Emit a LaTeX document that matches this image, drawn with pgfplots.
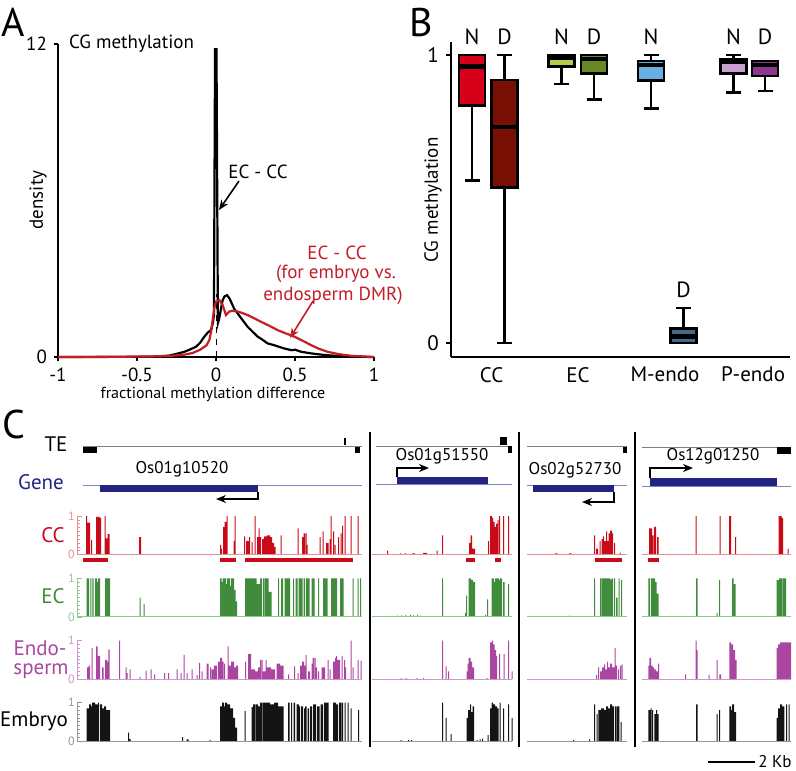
\documentclass[border=0pt]{standalone}
\usepackage{fontspec}
\setmainfont{PT Sans}
\usepackage{pgfplots}
\pgfplotsset{compat=1.18}
\usepgfplotslibrary{statistics}
\usetikzlibrary{arrows.meta}

\definecolor{ccred}{RGB}{200,10,25}
\definecolor{ccbase}{RGB}{228,145,145}
\definecolor{ecgreen}{RGB}{65,140,60}
\definecolor{ecbase}{RGB}{145,200,145}
\definecolor{endo}{RGB}{170,70,160}
\definecolor{endobase}{RGB}{205,150,205}
\definecolor{emb}{RGB}{20,20,20}
\definecolor{embbase}{RGB}{150,150,150}
\definecolor{navy}{RGB}{35,35,130}
\definecolor{navylight}{RGB}{130,130,200}
\definecolor{redtxt}{RGB}{195,30,40}
\definecolor{ccN}{RGB}{215,0,25}
\definecolor{ccD}{RGB}{120,15,5}
\definecolor{ecN}{RGB}{175,205,70}
\definecolor{ecD}{RGB}{105,135,35}
\definecolor{meN}{RGB}{105,175,225}
\definecolor{meD}{RGB}{70,105,135}
\definecolor{peN}{RGB}{200,160,205}
\definecolor{peD}{RGB}{140,55,140}

\newcommand{\pu}{0.5pt}
\newcommand{\fs}[1]{\fontsize{#1}{#1}\selectfont}

\pgfplotsset{
  track/.style={scale only axis, width=714*\pu, height=38.5*\pu,
    xmin=77, xmax=791, ymin=0, ymax=1,
    axis x line=none, axis y line=left, axis line style={-, #1, line width=0.4pt},
    ytick={0,1}, minor ytick={0.1,0.2,...,0.9},
    tick align=inside, major tick length=5*\pu, minor tick length=3*\pu,
    tick style={#1, line width=0.3pt},
    yticklabel style={font=\fs{6}, text=#1, inner sep=1pt},
    /pgf/number format/assume math mode=true, clip=false},
  bx/.style={boxplot/draw direction=y, boxplot prepared={box extend=2.6, whisker extend=1.5}},
}

\begin{document}
\begin{tikzpicture}
\path[use as bounding box] (0,0) rectangle (796*\pu,-770*\pu);

% ---------------- Panel A ----------------
\begin{axis}[at={(58*\pu,-357*\pu)}, anchor=south west, scale only axis,
  width=316*\pu, height=313*\pu, xmin=-1, xmax=1, ymin=0, ymax=12,
  axis x line=bottom, axis y line=left, axis line style={-, line width=1.3pt},
  xtick={-1,-0.5,0,0.5,1}, xticklabels={-1,-0.5,0,0.5,1},
  ytick={0,12}, yticklabels={0,12},
  tick align=outside, major tick length=4*\pu, tick style={black, line width=0.9pt},
  ticklabel style={font=\fs{9.5}}, clip=false]
\addplot[black, dashed, line width=0.4pt] coordinates {(0,0) (0,2.4)};
\addplot[black, line width=1.1pt] coordinates {
(-1,0) (-0.6,0.005) (-0.41,0.01) (-0.3,0.05) (-0.25,0.12) (-0.2,0.2) (-0.16,0.3) (-0.127,0.39) (-0.1,0.55) (-0.074,0.78) (-0.05,0.95) (-0.032,1.03) (-0.02,1.3) (-0.013,1.6)
(-0.006,11.8) (0.003,11.8) (0.012,1.3) (0.021,1.49) (0.03,1.8) (0.042,2.18) (0.055,2.33) (0.07,2.37) (0.085,2.25) (0.095,2.12) (0.115,1.85) (0.137,1.67) (0.17,1.4) (0.2,1.16) (0.23,0.98) (0.264,0.78) (0.29,0.68) (0.327,0.52) (0.37,0.45) (0.43,0.33) (0.48,0.26) (0.5,0.28) (0.54,0.2) (0.6,0.14) (0.64,0.11) (0.7,0.07) (0.77,0.04) (0.9,0.01) (1,0)};
\addplot[redtxt, line width=1.1pt] coordinates {
(-1,0) (-0.6,0.01) (-0.41,0.02) (-0.3,0.04) (-0.2,0.09) (-0.15,0.15) (-0.1,0.28) (-0.06,0.45) (-0.042,0.65) (-0.03,1.0) (-0.021,1.42) (-0.01,1.9) (0.0,2.12) (0.021,2.18) (0.042,1.99) (0.063,1.61) (0.084,1.74) (0.1,1.77) (0.127,1.76) (0.16,1.7) (0.2,1.61) (0.24,1.49) (0.285,1.35) (0.34,1.19) (0.39,1.03) (0.44,0.91) (0.496,0.78) (0.55,0.62) (0.6,0.46) (0.65,0.32) (0.706,0.2) (0.76,0.13) (0.81,0.08) (0.87,0.04) (0.94,0.02) (1,0)};
\end{axis}

% ---------------- Panel B ----------------
% x in units of 10 px measured from the y axis
\begin{axis}[at={(451*\pu,-357*\pu)}, anchor=south west, scale only axis,
  width=339*\pu, height=315*\pu, xmin=0, xmax=33.9, ymin=-0.0486, ymax=1.045,
  axis x line=bottom, axis y line=left, axis line style={-, line width=1.3pt},
  ytick={0,1}, yticklabels={0,1},
  xtick={4.07,12.7,21.4,30.2}, xticklabels={CC,EC,M-endo,P-endo},
  tick align=outside, major tick length=5*\pu, tick style={black, line width=0.9pt},
  x tick style={draw=none},
  ticklabel style={font=\fs{10.5}},
  xticklabel style={yshift=1pt},
  boxplot/every median/.style={line width=2.2pt},
  clip=false]
\addplot[fill=ccN, draw=black, line width=1.3pt, bx, boxplot prepared={draw position=2.1, lower whisker=0.565, lower quartile=0.824, median=0.960, upper quartile=1.0, upper whisker=1.0}] coordinates {};
\addplot[fill=ccD, draw=black, line width=1.3pt, bx, boxplot prepared={draw position=5.35, lower whisker=0, lower quartile=0.540, median=0.749, upper quartile=0.913, upper whisker=1.0}] coordinates {};
\addplot[fill=ecN, draw=black, line width=1.3pt, bx, boxplot prepared={draw position=11.05, lower whisker=0.899, lower quartile=0.960, median=0.990, upper quartile=1.0, upper whisker=1.0}] coordinates {};
\addplot[fill=ecD, draw=black, line width=1.3pt, bx, boxplot prepared={draw position=14.3, lower whisker=0.846, lower quartile=0.936, median=0.985, upper quartile=1.0, upper whisker=1.0}] coordinates {};
\addplot[fill=meN, draw=black, line width=1.3pt, bx, boxplot prepared={draw position=20.0, lower whisker=0.814, lower quartile=0.911, median=0.965, upper quartile=0.979, upper whisker=1.0}] coordinates {};
\addplot[fill=meD, draw=black, line width=1.3pt, bx, boxplot prepared={draw position=23.25, lower whisker=0, lower quartile=0, median=0.023, upper quartile=0.05, upper whisker=0.121}] coordinates {};
\addplot[fill=peN, draw=black, line width=1.3pt, bx, boxplot prepared={draw position=28.25, lower whisker=0.869, lower quartile=0.936, median=0.975, upper quartile=0.986, upper whisker=1.0}] coordinates {};
\addplot[fill=peD, draw=black, line width=1.3pt, bx, boxplot prepared={draw position=31.4, lower whisker=0.875, lower quartile=0.927, median=0.965, upper quartile=0.979, upper whisker=0.979}] coordinates {};
\end{axis}

% ---------------- Panel C tracks ----------------
% CC
\begin{axis}[track=ccbase, at={(77*\pu,-554.5*\pu)}, anchor=south west]
\addplot[ybar interval, fill=ccred, draw=none] coordinates {
(86,1.0)(87,0.83)(90,0)(91,0.38)(92,0)(96,0.98)(99.5,0.95)(101,0)(104.5,1.0)(105.5,0.42)(107.5,0.53)(109.5,0)
(139,0.45)(141,0)
(220,0.25)(221,0.15)(222,0)(223,0.72)(224.5,0.85)(226.5,1.0)(227.5,0)(233.5,0.35)(234.5,1.0)(235.5,0)
(244,0.47)(245,0)(246,0.35)(249,0.45)(250,0)(251.5,0.32)(252.5,0)(254.5,1.0)(255.5,0)(257,0.45)(258.5,0.68)(259.5,0.45)(261,0)(262,0.4)(264,0.47)(267,0.5)(270,0.45)(272,0.3)(274,0.2)(275.5,0)
(280.5,0.5)(281.5,0)(297.5,0.68)(298.5,0)(302,0.45)(303.5,0.55)(305,0)(305.5,0.55)(306.5,0.25)(307.5,0)
(319.5,0.45)(320.5,0)(322.5,0.6)(323.5,0)(326,0.3)(328.5,0)(329.5,0.4)(330.5,1.0)(331.5,0)(333,0.6)(334,0)(334.5,0.25)(335.5,0)(338,0.45)(339,0)(340.5,0.55)(341.5,0)(342,0.75)(343,0)(344.5,1.0)(345.5,0)(350.5,1.0)(351.5,0)(357.5,1.0)(358.5,0)};
\addplot[ybar interval, fill=ccred, draw=none] coordinates {
(387,0.1)(388,0)(400,0.03)(401,0)(405,0.03)(406,0)(412,0.03)(415,0)(423,0.04)(427,0)(436.5,0.1)(437.5,0)(442,0.5)(443,0)
(469,0.3)(470.5,0.5)(472,0.15)(475,0)(488,0.35)(489,0)(490,1.0)(492,0.95)(493,0.85)(494.5,0.72)(496,0.8)(497.5,0.9)(498.5,0)(499,1.0)(500,0)(503,1.0)(504,0)(508,1.0)(509,0)};
\addplot[ybar interval, fill=ccred, draw=none] coordinates {
(555,0.03)(557.5,0)(569,0.03)(571.5,0)(594,0.5)(595,0)(596,0.15)(598,0)(599.5,0.35)(600.5,0)(601.5,0.4)(603,0.47)(604,0.35)(606,0.6)(607,0.35)(608.5,0.55)(610,0.62)(612,0.55)(613,0)(614,0.3)(615,0)(619.5,0.05)(620.5,0)};
\addplot[ybar interval, fill=ccred, draw=none] coordinates {
(649,0.68)(652,0.5)(653.5,0)(654,0.72)(656,0)(657,0.45)(658.7,0)(695.5,1.0)(696.5,0)(719.5,1.0)(720.5,0)(729,1.0)(731,0)(735,0.45)(736,0)(778.5,1.0)(781.5,0.95)(783,0)(787.5,0.15)(788.5,0)};
\addplot[ccbase, line width=0.5pt] coordinates {(77,0)(362,0)};
\addplot[ccbase, line width=0.5pt] coordinates {(372,0)(512,0)};
\addplot[ccbase, line width=0.5pt] coordinates {(527,0)(627,0)};
\addplot[ccbase, line width=0.5pt] coordinates {(642,0)(791,0)};
\end{axis}

% EC
\begin{axis}[track=ecbase, at={(77*\pu,-616.8*\pu)}, anchor=south west]
\addplot[ybar interval, fill=ecgreen, draw=none] coordinates {
(86.5,1.0)(89,0)(90.3,1.0)(91.3,0)(92.3,1.0)(93.5,0)(95,1.0)(97,0.9)(98,1.0)(100,0)(105,1.0)(110,0)
(139.5,0.5)(140.5,0)(143.5,0.33)(144.5,0)
(220,1.0)(221.5,0.9)(222.5,1.0)(226,0.85)(227,1.0)(230,0.8)(231,1.0)(234,0.7)(235.5,0.4)(237,0)
(245,1.0)(256.5,0.85)(260,1.0)(262,0)(263,1.0)(264.5,0)(265,1.0)(268.5,0.65)(271.5,0)(278,1.0)(279,0)(281,1.0)(283,0)(284.5,1.0)(290,0)(293,1.0)(294,0)(295.5,1.0)(297.5,0)(298.5,1.0)(302.5,0)(303.5,1.0)(305,0)(306,1.0)(309.5,0)(311.5,1.0)(314.5,0)(318,1.0)(319,0)(323,1.0)(327.5,0)(331,1.0)(337,0)(340,1.0)(343.5,0)(352.5,1.0)(353.5,0)(357.5,1.0)(358.5,0)(360,1.0)(361,0)};
\addplot[ybar interval, fill=ecgreen, draw=none] coordinates {
(397,0.03)(398,0)(401,0.04)(402,0)(405,0.04)(406,0)(410,0.05)(411,0)(413,0.04)(414,0)(417,0.05)(418,0)(420,0.03)(421,0)
(442,1.0)(443,0)(465,0.1)(466,0.55)(467,0)(468.5,1.0)(471,0.95)(473,0.9)(475,0)
(485,0.05)(486,0)(487,0.45)(488,0)(491.5,1.0)(494,0.9)(495,1.0)(499,0.95)(500,1.0)(502,0)(503,0.9)(504.5,0)(508,0.85)(509,0)};
\addplot[ybar interval, fill=ecgreen, draw=none] coordinates {
(543,0.02)(544,0)(569,0.03)(570,0)(594,1.0)(595,0)(600,1.0)(601,0)(601.5,1.0)(610,0.97)(612,1.0)(613,0)(614,1.0)(615,0)(616,0.5)(617.5,0)(618.5,1.0)(619.5,0)(621,0.95)(622,0)};
\addplot[ybar interval, fill=ecgreen, draw=none] coordinates {
(648.3,1.0)(650,0)(651,1.0)(655,0.9)(656.5,0.6)(658.7,0)(696,1.0)(697.7,0)(716.5,0.1)(717.5,0)(719,0.95)(720,0)(732,1.0)(733.5,0.85)(735.5,0)(776.7,0.95)(779,1.0)(782,0)(782.7,1.0)(786,0)};
\addplot[ecbase, line width=0.5pt] coordinates {(77,0)(362,0)};
\addplot[ecbase, line width=0.5pt] coordinates {(372,0)(512,0)};
\addplot[ecbase, line width=0.5pt] coordinates {(527,0)(627,0)};
\addplot[ecbase, line width=0.5pt] coordinates {(642,0)(791,0)};
\end{axis}

% Endosperm
\begin{axis}[track=endobase, at={(77*\pu,-679*\pu)}, anchor=south west]
\addplot[ybar interval, fill=endo, draw=none] coordinates {
(87,0.3)(88.5,0.35)(90,0)(91.5,0.8)(92.5,0)(96,0.85)(97.7,0.6)(100,0)(102,0.3)(103.5,0)(105,0.5)(107,0.45)(108.3,0.77)(109.5,0)(119,1.0)(120,0)(125.5,0.3)(126.5,0.15)(127.5,0)(129.5,0.25)(130.5,0)(139.5,0.05)(140.5,0)(145.5,0.22)(146.5,0)(150.5,0.25)(151.5,0)(154,0.12)(155,0)(164,0.15)(165,0)(168,0.15)(169,0)(176.5,0.25)(177.5,0)(180.5,0.15)(181.5,0)(183.5,0.63)(184.5,0)(186.5,0.15)(187.5,0)(191.5,0.25)(192.5,0)(196.5,0.1)(197.5,0)(199,0.42)(200,0)(201.5,0.2)(202.5,0)(206.5,0.4)(208.5,0)(210,0.3)(211,0)(211.5,0.25)(214,0.35)(217,0)(218,0.45)(220,0.55)(222,0.45)(223.5,0)(224,0.4)(225,0)(227.5,0.85)(228.5,0.35)(231,0.45)(234,0.3)(236,0.35)(238,0)
(245,0.45)(246,0)(248,0.65)(251,0.25)(255,0.2)(258,0.3)(260,0.5)(261,0)(261.5,0.5)(262.5,0.2)(265.5,0.5)(266.5,0.3)(271,0.25)(275,0)(276.5,0.4)(280,0.35)(283.5,0)(288,0.12)(289,0)(294,0.33)(295,0)(297.5,0.15)(298.5,0)(300,0.35)(302,0.45)(304,0.35)(305.5,0.62)(306.5,0)(308,0.2)(310,0)(311.5,0.4)(312.5,0.55)(314,0)(314.7,0.55)(315.7,0.3)(317,0)(318,0.2)(319,0)(321.5,0.3)(325,0)(327.5,0.5)(328.5,0)(329.5,0.25)(330.5,0)(333,0.45)(335,0.55)(336,0.6)(337,0.5)(340,0)(341.5,0.6)(342.5,0)(344,0.5)(345,0.3)(346,0)(350.5,1.0)(351.5,0)(352.5,0.3)(353.5,0)(357.5,0.5)(358.5,0)(360.5,0.48)(361.5,0)};
\addplot[ybar interval, fill=endo, draw=none] coordinates {
(400.5,0.02)(401.5,0)(405.5,0.02)(406.5,0)(416.5,0.02)(417.5,0)(423,0.02)(424,0)(442,1.0)(443,0)(445.5,0.33)(446.5,0)(448,0.2)(449,0)(466.5,0.2)(467.5,0.4)(468.5,0.55)(470.5,0.45)(472,0.3)(474,0)(486.5,0.02)(487.5,0)(490,0.95)(492,1.0)(493,0.9)(494.5,0.75)(496,0.6)(497,0)(499,0.65)(500,0)(503.5,0.65)(504.5,0)(508,1.0)(509,0)(511.5,0.2)(512.5,0)};
\addplot[ybar interval, fill=endo, draw=none] coordinates {
(596,0.1)(597,0)(598,0.3)(599,0)(600,0.2)(602,0.3)(604,0.38)(605,0.25)(607,0.45)(608,0.3)(610,0.4)(612,0.3)(614.5,0.8)(615.5,0.35)(617,0)(618,0.25)(619,0)(620,0.35)(621,0)(621.5,0.38)(622.5,0)};
\addplot[ybar interval, fill=endo, draw=none] coordinates {
(648.3,0.35)(649.3,0.55)(651,0.35)(652.5,0.3)(654,0.25)(656,0.2)(658,0.4)(659,0)(685,0.12)(686,0)(695.7,1.0)(696.7,0.75)(697.7,0)(708.5,0.1)(709.5,0)(716.5,0.5)(717.5,0)(719.3,0.12)(721,0)(729.3,0.95)(731,0.9)(733,0.75)(735,0.5)(736.5,0)(776.7,0.8)(778,0.9)(780,0.95)(791,0)};
\addplot[endobase, line width=0.5pt] coordinates {(77,0)(362,0)};
\addplot[endobase, line width=0.5pt] coordinates {(372,0)(512,0)};
\addplot[endobase, line width=0.5pt] coordinates {(527,0)(627,0)};
\addplot[endobase, line width=0.5pt] coordinates {(642,0)(791,0)};
\end{axis}

% Embryo
\begin{axis}[track=embbase, at={(77*\pu,-741*\pu)}, anchor=south west]
\addplot[ybar interval, fill=emb, draw=none] coordinates {
(86.7,0.85)(89,0.95)(91,0.9)(92,1.0)(95,0.95)(98,1.0)(99,0)(100,0.95)(102,0.85)(104,0.9)(106,0.8)(110,0)
(128,0.22)(129,0.05)(130.5,0)(182,0.1)(183,0)(186.5,0.04)(188.5,0)(209.5,0.03)(210.5,0)
(220,0.9)(222,1.0)(224,0.9)(225,1.0)(227,0.95)(230,0.85)(233,0.6)(235,0.35)(237,0)
(244.5,0.78)(245.5,0)(251.5,0.88)(253,0.95)(255,0)(255.5,0.95)(258,0.9)(260,1.0)(262,0)(262.5,1.0)(270,0.95)(274,1.0)(278,0.9)(283.5,0)
(288,1.0)(289.5,0)(291,1.0)(292,0)(293.5,1.0)(295,0)(296.5,0.95)(299,0.9)(300,0)(301,0.9)(303,0)(304,0.85)(305,0.9)(306.5,0)(307.5,0.85)(309,0)(310,0.9)(312,0)(313,0.95)(316,0)(317,0.9)(319.5,0)(320.5,0.95)(323,0)(324,1.0)(328.5,0)(333,1.0)(336,0.95)(338,0)(339,1.0)(341,0)(341.5,1.0)(343,0)(344.5,1.0)(345.5,0)(347.5,1.0)(348.5,0)(350.5,0.85)(351.5,0)(358,0.8)(359,0)};
\addplot[ybar interval, fill=emb, draw=none] coordinates {
(400.5,0.02)(401.5,0)(408,0.02)(409,0)(411,0.02)(412,0)(442,1.0)(443,0)(445.5,0.6)(446.5,0)(450.5,0.18)(451.5,0)(466.5,0.6)(468,0.8)(470,0.95)(471,0.75)(472.5,0.9)(474,0)(476.5,0.03)(477.5,0)(479.5,0.04)(480.5,0)(482,0.06)(483,0)(487.5,0.15)(488.5,0)(490,0.85)(491.5,1.0)(493,0.95)(495,0.9)(497,0.85)(498.5,0)(499.5,1.0)(500.5,0)(503,0.85)(504,0)(508,0.95)(509,0)(511.5,0.6)(512.5,0)};
\addplot[ybar interval, fill=emb, draw=none] coordinates {
(573,0.02)(574,0)(589,0.04)(590,0)(594,0.95)(595,0)(596.5,0.7)(597.5,0)(598.3,0.8)(601,0.85)(604,0.8)(606,0.9)(608,0.85)(610,0.95)(612,0.9)(614,0)(615,0.9)(616,0)(616.7,0.9)(619.3,0)(620.5,0.5)(621.5,0)};
\addplot[ybar interval, fill=emb, draw=none] coordinates {
(648.3,0.8)(650.5,0.85)(651.5,0)(652,0.8)(653,0)(654.3,0.7)(656,0.8)(657,0.7)(658.7,0)(696,0.95)(697.7,0)(716.5,0.7)(717.5,0)(719,0.8)(720,0)(729.3,0.9)(731,0.8)(732,0.95)(734,0.75)(736,0)(776.7,0.6)(778,0.85)(780,0.95)(782,0.9)(784.3,0)(786,0.95)(787,0)(788.5,0.95)(789.5,0)};
\addplot[embbase, line width=0.5pt] coordinates {(77,0)(362,0)};
\addplot[embbase, line width=0.5pt] coordinates {(372,0)(512,0)};
\addplot[embbase, line width=0.5pt] coordinates {(527,0)(627,0)};
\addplot[embbase, line width=0.5pt] coordinates {(642,0)(791,0)};
\end{axis}

% ---------------- Canvas (annotations, TE, genes) ----------------
\begin{axis}[at={(0,0)}, anchor=north west, scale only axis,
  width=796*\pu, height=770*\pu, xmin=0, xmax=796, ymin=0, ymax=770,
  y dir=reverse, hide axis, clip=false]
% panel letters
\node[font=\fs{20}] at (axis cs:13,22) {A};
\node[font=\fs{20}] at (axis cs:421,22) {B};
\node[font=\fs{20}] at (axis cs:14,424) {C};
% panel A texts
\node[font=\fs{9.5}, anchor=west] at (axis cs:62,44) {CG methylation};
\node[font=\fs{9.5}, rotate=90] at (axis cs:38,200) {density};
\node[font=\fs{8}] at (axis cs:213,394) {fractional methylation difference};
\node[font=\fs{9.5}] at (axis cs:258,172) {EC - CC};
\draw[-{Stealth[length=5pt,width=4pt]}, line width=0.8pt] (axis cs:239,181) -- (axis cs:219,210);
\node[font=\fs{9.5}, text=redtxt] at (axis cs:337,253) {EC - CC};
\node[font=\fs{9.5}, text=redtxt] at (axis cs:336,274) {(for embryo vs.};
\node[font=\fs{9.5}, text=redtxt] at (axis cs:333,296) {endosperm DMR)};
\draw[redtxt, -{Stealth[length=5pt,width=4pt]}, line width=0.8pt] (axis cs:313,301) -- (axis cs:290,338);
% panel B texts
\node[font=\fs{9.5}, rotate=90] at (axis cs:433,200) {CG methylation};
\node[font=\fs{11}] at (axis cs:472,37) {N};
\node[font=\fs{11}] at (axis cs:504.5,37) {D};
\node[font=\fs{11}] at (axis cs:561.5,37) {N};
\node[font=\fs{11}] at (axis cs:594,37) {D};
\node[font=\fs{11}] at (axis cs:651,37) {N};
\node[font=\fs{11}] at (axis cs:733.5,37) {N};
\node[font=\fs{11}] at (axis cs:765,37) {D};
\node[font=\fs{11}] at (axis cs:683.5,290) {D};
% panel C track labels
\node[font=\fs{10.5}] at (axis cs:56,444) {TE};
\node[font=\fs{10.5}, text=navy] at (axis cs:41,482) {Gene};
\node[font=\fs{10.5}, text=ccred] at (axis cs:53,535) {CC};
\node[font=\fs{10.5}, text=ecgreen] at (axis cs:53,596) {EC};
\node[font=\fs{10.5}, text=endo] at (axis cs:40,648) {Endo-};
\node[font=\fs{10.5}, text=endo] at (axis cs:41,671) {sperm};
\node[font=\fs{10.5}] at (axis cs:34,721) {Embryo};
% separators
\addplot[black, line width=1.3pt] coordinates {(370,432)(370,747)};
\addplot[black, line width=1.3pt] coordinates {(519,432)(519,747)};
\addplot[black, line width=1.3pt] coordinates {(635,432)(635,747)};
% scale bar
\addplot[black, line width=0.8pt] coordinates {(708,762)(755,762)};
\node[font=\fs{8.5}, anchor=east, inner sep=0pt] at (axis cs:792,762) {2 Kb};
% TE tracks
\addplot[gray, line width=0.4pt] coordinates {(83,446.7)(362,446.7)};
\addplot[black, line width=3pt] coordinates {(83,450)(97,450)};
\addplot[black, line width=3pt] coordinates {(355,450)(360,450)};
\addplot[black, line width=0.8pt] coordinates {(345,438)(345,445)};
\addplot[gray, line width=0.4pt] coordinates {(376,446)(512,446)};
\addplot[black, line width=3.8pt] coordinates {(500,441)(506.5,441)};
\addplot[black, line width=3.2pt] coordinates {(508,449.5)(511.5,449.5)};
\addplot[gray, line width=0.4pt] coordinates {(527,446)(627,446)};
\addplot[black, line width=3pt] coordinates {(623,450)(627,450)};
\addplot[gray, line width=0.4pt] coordinates {(642,447)(791,447)};
\addplot[black, line width=3.5pt] coordinates {(777,450.5)(791,450.5)};
% Gene tracks
\addplot[navylight, line width=0.5pt] coordinates {(83,485)(362,485)};
\addplot[navy, line width=3.5pt] coordinates {(100,488.5)(258,488.5)};
\addplot[black, line width=0.8pt, -{Stealth[length=5pt,width=4pt]}] coordinates {(258,492)(258,499)(216,499)};
\node[font=\fs{8.5}] at (axis cs:182,469) {Os01g10520};
\addplot[navylight, line width=0.5pt] coordinates {(376,484)(512,484)};
\addplot[navy, line width=3.5pt] coordinates {(397,480.5)(488,480.5)};
\addplot[black, line width=0.8pt, -{Stealth[length=5pt,width=4pt]}] coordinates {(397,477)(397,468)(429,468)};
\node[font=\fs{8.5}] at (axis cs:442,456) {Os01g51550};
\addplot[navylight, line width=0.5pt] coordinates {(527,485)(627,485)};
\addplot[navy, line width=3.5pt] coordinates {(533,488.5)(614,488.5)};
\addplot[black, line width=0.8pt, -{Stealth[length=5pt,width=4pt]}] coordinates {(614,492)(614,502)(582,502)};
\node[font=\fs{8.5}] at (axis cs:575,470) {Os02g52730};
\addplot[navylight, line width=0.5pt] coordinates {(642,486)(791,486)};
\addplot[navy, line width=3.8pt] coordinates {(650,482)(777,482)};
\addplot[black, line width=0.8pt, -{Stealth[length=5pt,width=4pt]}] coordinates {(650,478)(650,468)(693,468)};
\node[font=\fs{8.5}] at (axis cs:713,456) {Os12g01250};
% DMR bars
\addplot[ccred, line width=2.2pt] coordinates {(83,560)(108,560)};
\addplot[ccred, line width=2.2pt] coordinates {(220,560)(236,560)};
\addplot[ccred, line width=2.2pt] coordinates {(245,560)(353,560)};
\addplot[ccred, line width=2.2pt] coordinates {(466,560)(475,560)};
\addplot[ccred, line width=2.2pt] coordinates {(495,560)(501,560)};
\addplot[ccred, line width=2.2pt] coordinates {(595,560)(621.7,560)};
\addplot[ccred, line width=2.2pt] coordinates {(648.3,560)(659.3,560)};
\end{axis}
\end{tikzpicture}
\end{document}
